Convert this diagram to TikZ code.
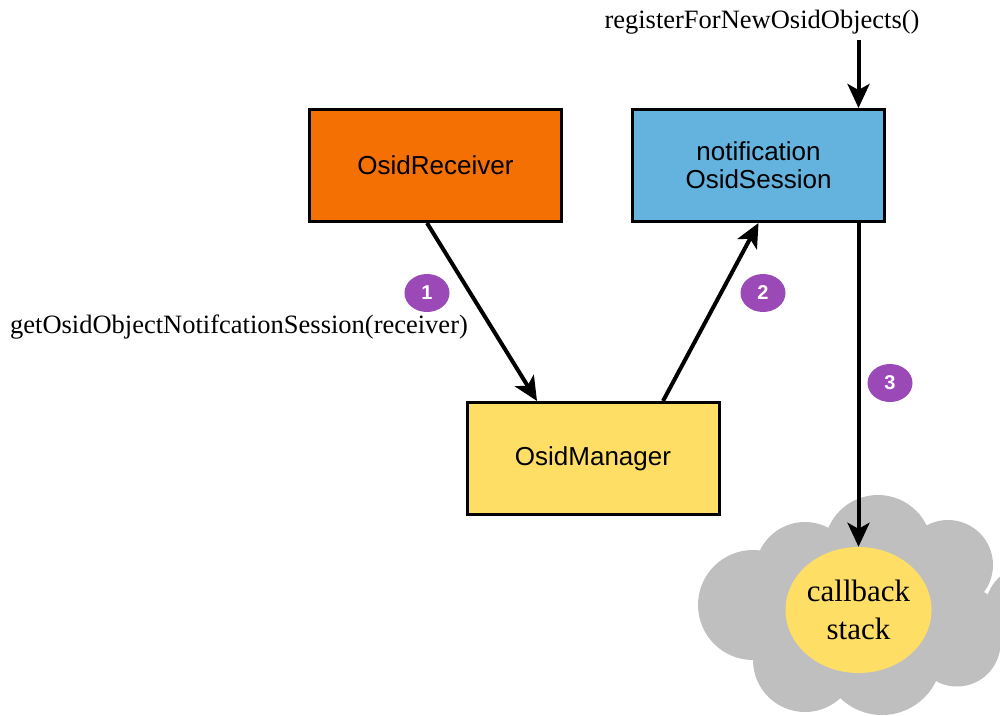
\documentclass[tikz,border=0pt]{standalone}
\usepackage{fontspec}
\setmainfont{Liberation Serif}
\setsansfont{Liberation Sans}
\usepackage{tikz}
\usetikzlibrary{arrows.meta}
\usetikzlibrary{shapes.geometric}

\definecolor{recvorange}{RGB}{245,112,3}
\definecolor{sessblue}{RGB}{100,178,222}
\definecolor{mgryellow}{RGB}{255,222,102}
\definecolor{cloudgray}{RGB}{191,191,191}
\definecolor{stepviolet}{RGB}{155,73,183}

\tikzset{
  osidbox/.style={shape=rectangle, minimum width=252pt, minimum height=112pt, align=center, draw=black, line width=3pt, font=\sffamily\fontsize{26}{28}\selectfont},
  stepmark/.style={shape=ellipse, minimum width=45pt, minimum height=38pt, inner sep=0pt, fill=stepviolet, text=white, font=\sffamily\bfseries\fontsize{20}{20}\selectfont},
  calltext/.style={anchor=base, font=\fontsize{26.5}{28}\selectfont},
  callarrow/.style={-{Stealth[length=24pt, width=22pt, inset=6pt]}, line width=4pt}
}

\begin{document}
\begin{tikzpicture}[x=1pt, y=-1pt]
\useasboundingbox (0,0) rectangle (1000,715);
% cloud behind the stack
\foreach \cx/\cy/\r in {753/605/55, 805/572/50, 878/549/54, 948/565/45, 1030/610/45, 965/625/38, 957/643/43.5, 882/655/60, 805/660/52, 870/615/85}
  {\fill[cloudgray] (\cx,\cy) circle (\r pt);}
\node[shape=ellipse, minimum width=138pt, minimum height=126pt, inner sep=0pt, fill=mgryellow, align=center, font=\fontsize{31}{38}\selectfont] (stack) at (858.5,610) {callback\\stack};
% the three objects
\node[osidbox, fill=recvorange] (recv) at (435.5,165.5) {OsidReceiver};
\node[osidbox, fill=sessblue] (sess) at (758.5,165.5) {notification\\OsidSession};
\node[osidbox, fill=mgryellow] (mgr) at (593,458.5) {OsidManager};
% calls
\node[calltext] (regtext) at (762,28) {registerForNewOsidObjects()};
\coordinate (regstart) at (858.5,40);
\draw[callarrow] (regstart) -- ([xshift=100pt]sess.north);
\node[calltext] (gettext) at (239,333) {getOsidObjectNotifcationSession(receiver)};
\draw[callarrow] ([xshift=-8.5pt]recv.south) -- ([xshift=-56pt]mgr.north);
\draw[callarrow] ([xshift=70pt]mgr.north) -- (sess.south);
\draw[callarrow] ([xshift=100pt]sess.south) -- (stack.north);
% step numbers
\node[stepmark] (step1) at (427,293) {1};
\node[stepmark] (step2) at (763,293) {2};
\node[stepmark] (step3) at (890,383) {3};
\end{tikzpicture}
\end{document}
